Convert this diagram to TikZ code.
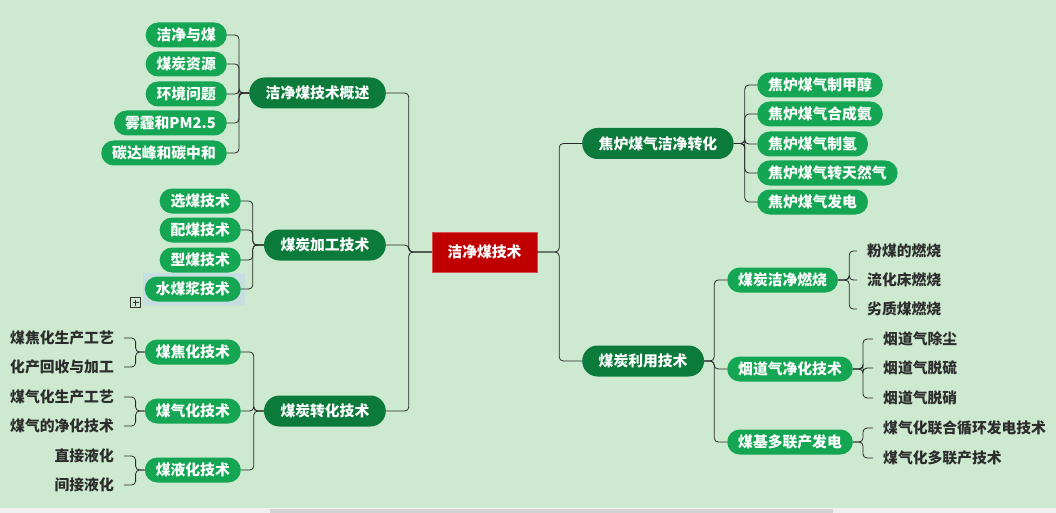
\documentclass[tikz,border=0pt]{standalone}
\usepackage{fontspec}
\setmainfont{Noto Sans CJK SC}
\definecolor{bgc}{RGB}{205,234,208}
\definecolor{dkgreen}{RGB}{12,122,58}
\definecolor{ltgreen}{RGB}{20,166,82}
\definecolor{rootred}{RGB}{192,0,0}
\definecolor{leafc}{RGB}{45,45,45}
\definecolor{linec}{RGB}{40,40,40}
\definecolor{selc}{RGB}{198,222,224}
\begin{document}
\begin{tikzpicture}[x=1pt,y=-1pt,
  every node/.style={font=\fontsize{14.8}{17}\selectfont\bfseries, inner ysep=0pt},
  rootbox/.style={fill=rootred, draw={rgb,255:red,215;green,80;blue,80}, text=white, minimum width=105pt, minimum height=40pt},
  lvone/.style={fill=dkgreen, text=white, rounded corners=15.5pt, minimum height=31pt, inner xsep=16.5pt},
  lvtwo/.style={fill=ltgreen, text=white, rounded corners=12.5pt, minimum height=25pt, inner xsep=11pt},
  leaf/.style={text=leafc, inner xsep=10pt, minimum height=20pt},
  conn/.style={draw=linec, line width=0.8pt, rounded corners=4pt}]
\fill[bgc] (0,0) rectangle (1056,513);
\useasboundingbox (0,0) rectangle (1056,513);
% scrollbar
\fill[gray!12] (0,508) rectangle (1056,513);
\fill[gray!35] (270,509) rectangle (833,513);

% root
\node[rootbox] (root) at (484.5,252) {洁净煤技术};

% left level 1
\node[lvone, anchor=east] (A) at (386,93) {洁净煤技术概述};
\node[lvone, anchor=east] (B) at (386,245) {煤炭加工技术};
\node[lvone, anchor=east] (C) at (386,411) {煤炭转化技术};

% right level 1
\node[lvone, anchor=west] (D) at (582,143.5) {焦炉煤气洁净转化};
\node[lvone, anchor=west] (E) at (582,361) {煤炭利用技术};

% A children
\node[lvtwo, anchor=east] (A1) at (227,35) {洁净与煤};
\node[lvtwo, anchor=east] (A2) at (227,64) {煤炭资源};
\node[lvtwo, anchor=east] (A3) at (227,94) {环境问题};
\node[lvtwo, anchor=east] (A4) at (227,123) {雾霾和PM2.5};
\node[lvtwo, anchor=east] (A5) at (227,153) {碳达峰和碳中和};

% B children
\fill[selc] (143,273) rectangle (245,306);
\node[lvtwo, anchor=east] (B1) at (241,201) {选煤技术};
\node[lvtwo, anchor=east] (B2) at (241,230) {配煤技术};
\node[lvtwo, anchor=east] (B3) at (241,260) {型煤技术};
\node[lvtwo, anchor=east] (B4) at (241,289) {水煤浆技术};
\draw[line width=0.6pt, draw=black!80] (130.5,297.5) rectangle (140.5,307.5);
\draw[line width=0.6pt, draw=black!80] (132.5,302.5) -- (138.5,302.5) (135.5,299.5) -- (135.5,305.5);

% C children
\node[lvtwo, anchor=east] (C1) at (241,352) {煤焦化技术};
\node[lvtwo, anchor=east] (C2) at (241,411) {煤气化技术};
\node[lvtwo, anchor=east] (C3) at (241,470) {煤液化技术};

% C leaves
\node[leaf, anchor=east] (C11) at (124,338) {煤焦化生产工艺};
\node[leaf, anchor=east] (C12) at (124,367) {化产回收与加工};
\node[leaf, anchor=east] (C21) at (124,397) {煤气化生产工艺};
\node[leaf, anchor=east] (C22) at (124,426) {煤气的净化技术};
\node[leaf, anchor=east] (C31) at (124,456) {直接液化};
\node[leaf, anchor=east] (C32) at (124,485) {间接液化};

% D children
\node[lvtwo, anchor=west] (D1) at (757,85) {焦炉煤气制甲醇};
\node[lvtwo, anchor=west] (D2) at (757,114) {焦炉煤气合成氨};
\node[lvtwo, anchor=west] (D3) at (757,144) {焦炉煤气制氢};
\node[lvtwo, anchor=west] (D4) at (757,173) {焦炉煤气转天然气};
\node[lvtwo, anchor=west] (D5) at (757,202) {焦炉煤气发电};

% E children
\node[lvtwo, anchor=west] (E1) at (727,280) {煤炭洁净燃烧};
\node[lvtwo, anchor=west] (E2) at (727,369) {烟道气净化技术};
\node[lvtwo, anchor=west] (E3) at (727,442) {煤基多联产发电};

% E leaves
\node[leaf, anchor=west] (E11) at (857,251) {粉煤的燃烧};
\node[leaf, anchor=west] (E12) at (857,280) {流化床燃烧};
\node[leaf, anchor=west] (E13) at (857,309) {劣质煤燃烧};
\node[leaf, anchor=west] (E21) at (873,339) {烟道气除尘};
\node[leaf, anchor=west] (E22) at (873,368) {烟道气脱硫};
\node[leaf, anchor=west] (E23) at (873,398) {烟道气脱硝};
\node[leaf, anchor=west] (E31) at (873,428) {煤气化联合循环发电技术};
\node[leaf, anchor=west] (E32) at (873,458) {煤气化多联产技术};

% connectors
\foreach \n in {A,B,C} \draw[conn] (root.west) -- ++(-23,0) |- (\n.east);
\foreach \n in {D,E} \draw[conn] (root.east) -- ++(22,0) |- (\n.west);
\foreach \n in {A1,A2,A3,A4,A5} \draw[conn] (A.west) -- ++(-10,0) |- (\n.east);
\foreach \n in {B1,B2,B3,B4} \draw[conn] (B.west) -- ++(-11,0) |- (\n.east);
\foreach \n in {C1,C2,C3} \draw[conn] (C.west) -- ++(-10,0) |- (\n.east);
\foreach \n in {C11,C12} \draw[conn] (C1.west) -- ++(-9,0) |- (\n.east);
\foreach \n in {C21,C22} \draw[conn] (C2.west) -- ++(-9,0) |- (\n.east);
\foreach \n in {C31,C32} \draw[conn] (C3.west) -- ++(-9,0) |- (\n.east);
\foreach \n in {D1,D2,D3,D4,D5} \draw[conn] (D.east) -- ++(11,0) |- (\n.west);
\foreach \n in {E1,E2,E3} \draw[conn] (E.east) -- ++(10,0) |- (\n.west);
\foreach \n in {E11,E12,E13} \draw[conn] (E1.east) -- ++(11,0) |- (\n.west);
\foreach \n in {E21,E22,E23} \draw[conn] (E2.east) -- ++(10,0) |- (\n.west);
\foreach \n in {E31,E32} \draw[conn] (E3.east) -- ++(10,0) |- (\n.west);
\end{tikzpicture}
\end{document}
